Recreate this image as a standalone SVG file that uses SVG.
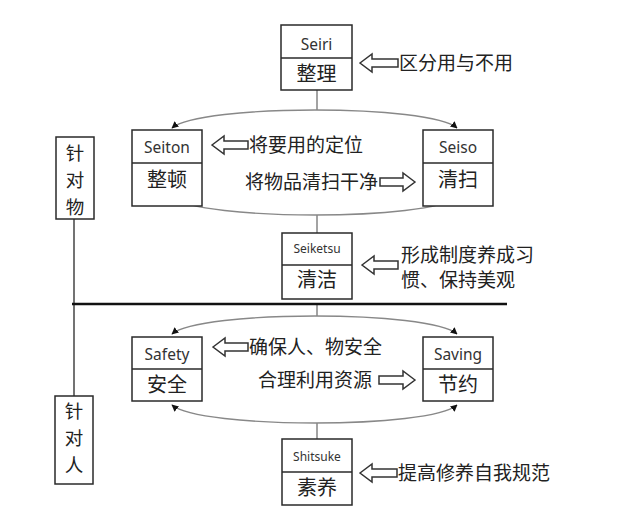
<svg xmlns="http://www.w3.org/2000/svg" width="634" height="522" viewBox="0 0 634 522">
<defs>
<marker id="ah" viewBox="0 0 10 10" refX="9" refY="5" markerWidth="7" markerHeight="7" orient="auto-start-reverse" markerUnits="userSpaceOnUse">
<path d="M0,0 L10,5 L0,10 z" fill="#111"/>
</marker>
<style>
.box{fill:#fff;stroke:#2a2a2a;stroke-width:1.5}
.div{stroke:#2a2a2a;stroke-width:1.3}
.en{font-family:"Noto Sans","Open Sans","Liberation Sans",sans-serif;font-size:15.5px;fill:#333;text-anchor:middle}
.ens{font-family:"Noto Sans","Open Sans","Liberation Sans",sans-serif;font-size:12px;fill:#333;text-anchor:middle}
.cn{font-family:"Noto Sans CJK SC","Noto Sans",sans-serif;font-size:20px;fill:#222;text-anchor:middle}
.vt{font-family:"Noto Sans CJK SC","Noto Sans",sans-serif;font-size:18.5px;fill:#222;text-anchor:middle}
.lbl{font-family:"Noto Sans CJK SC","Noto Sans",sans-serif;font-size:19px;fill:#222}
.ha{fill:#fff;stroke:#333;stroke-width:1.5;stroke-linejoin:miter}
.arc{fill:none;stroke:#888;stroke-width:1.3}
.ln{stroke:#666;stroke-width:1.2;fill:none}
</style>
</defs>
<rect width="634" height="522" fill="#fff"/>

<g id="connectors">
<line class="ln" x1="317" y1="90" x2="317" y2="110"/>
<line class="ln" x1="317" y1="215" x2="317" y2="233"/>
<line class="ln" x1="317" y1="304" x2="317" y2="316"/>
<line class="ln" x1="317" y1="423" x2="317" y2="439"/>
<path class="arc" d="M172,128 C200,104 430,104 457,128" marker-start="url(#ah)" marker-end="url(#ah)"/>
<path class="arc" d="M172,197 C200,221 430,221 457,197" marker-start="url(#ah)" marker-end="url(#ah)"/>
<path class="arc" d="M172,334 C200,310 430,310 457,334" marker-start="url(#ah)" marker-end="url(#ah)"/>
<path class="arc" d="M172,405 C200,429 430,429 457,405" marker-start="url(#ah)" marker-end="url(#ah)"/>
<line x1="74" y1="219" x2="74" y2="396" stroke="#444" stroke-width="1.5"/>
<line x1="72" y1="304" x2="507" y2="304" stroke="#111" stroke-width="2.4"/>
</g>

<g id="seiri">
<rect class="box" x="281" y="25" width="71" height="65"/>
<line class="div" x1="281" y1="58" x2="352" y2="58"/>
<text class="en" x="316.5" y="50">Seiri</text>
<text class="cn" x="316.5" y="81">整理</text>
</g>
<g id="seiri-note">
<polygon class="ha" points="360,63 372,54 372,59 398,59 398,67 372,67 372,72"/>
<text class="lbl" x="399" y="70">区分用与不用</text>
</g>

<g id="seiton">
<rect class="box" x="132" y="130" width="70" height="76"/>
<line class="div" x1="132" y1="163" x2="202" y2="163"/>
<text class="en" x="167" y="153">Seiton</text>
<text class="cn" x="167" y="187">整顿</text>
</g>
<g id="seiton-note">
<polygon class="ha" points="212,145 224,136 224,141 248,141 248,149 224,149 224,154"/>
<text class="lbl" x="249" y="152">将要用的定位</text>
</g>

<g id="seiso">
<rect class="box" x="423" y="130" width="70" height="76"/>
<line class="div" x1="423" y1="163" x2="493" y2="163"/>
<text class="en" x="458" y="153">Seiso</text>
<text class="cn" x="458" y="187">清扫</text>
</g>
<g id="seiso-note">
<text class="lbl" x="245" y="189">将物品清扫干净</text>
<polygon class="ha" points="415,182 403,173 403,178 380,178 380,186 403,186 403,191"/>
</g>

<g id="seiketsu">
<rect class="box" x="282" y="233" width="70" height="66"/>
<line class="div" x1="282" y1="265" x2="352" y2="265"/>
<text class="ens" x="317" y="253">Seiketsu</text>
<text class="cn" x="317" y="287">清洁</text>
</g>
<g id="seiketsu-note">
<polygon class="ha" points="362,265 374,256 374,261 398,261 398,269 374,269 374,274"/>
<text class="lbl" x="401" y="262">形成制度养成习</text>
<text class="lbl" x="401" y="287">惯、保持美观</text>
</g>

<g id="for-things">
<rect class="box" x="56" y="137" width="38" height="82"/>
<text class="vt" x="75" y="160">针</text>
<text class="vt" x="75" y="187">对</text>
<text class="vt" x="75" y="214">物</text>
</g>

<g id="for-people">
<rect class="box" x="55" y="396" width="38" height="88"/>
<text class="vt" x="74" y="418">针</text>
<text class="vt" x="74" y="445">对</text>
<text class="vt" x="74" y="472">人</text>
</g>

<g id="safety">
<rect class="box" x="132" y="337" width="70" height="64"/>
<line class="div" x1="132" y1="369" x2="202" y2="369"/>
<text class="en" x="167" y="360">Safety</text>
<text class="cn" x="167" y="392">安全</text>
</g>
<g id="safety-note">
<polygon class="ha" points="213,347 225,338 225,343 248,343 248,351 225,351 225,356"/>
<text class="lbl" x="249" y="354">确保人、物安全</text>
</g>

<g id="saving">
<rect class="box" x="423" y="337" width="70" height="64"/>
<line class="div" x1="423" y1="369" x2="493" y2="369"/>
<text class="en" x="458" y="360">Saving</text>
<text class="cn" x="458" y="392">节约</text>
</g>
<g id="saving-note">
<text class="lbl" x="258" y="387">合理利用资源</text>
<polygon class="ha" points="415,380 403,371 403,376 379,376 379,384 403,384 403,389"/>
</g>

<g id="shitsuke">
<rect class="box" x="282" y="439" width="70" height="66"/>
<line class="div" x1="282" y1="472" x2="352" y2="472"/>
<text class="ens" x="317" y="461">Shitsuke</text>
<text class="cn" x="317" y="495">素养</text>
</g>
<g id="shitsuke-note">
<polygon class="ha" points="360,473 372,464 372,469 397,469 397,477 372,477 372,482"/>
<text class="lbl" x="398" y="480">提高修养自我规范</text>
</g>
</svg>
